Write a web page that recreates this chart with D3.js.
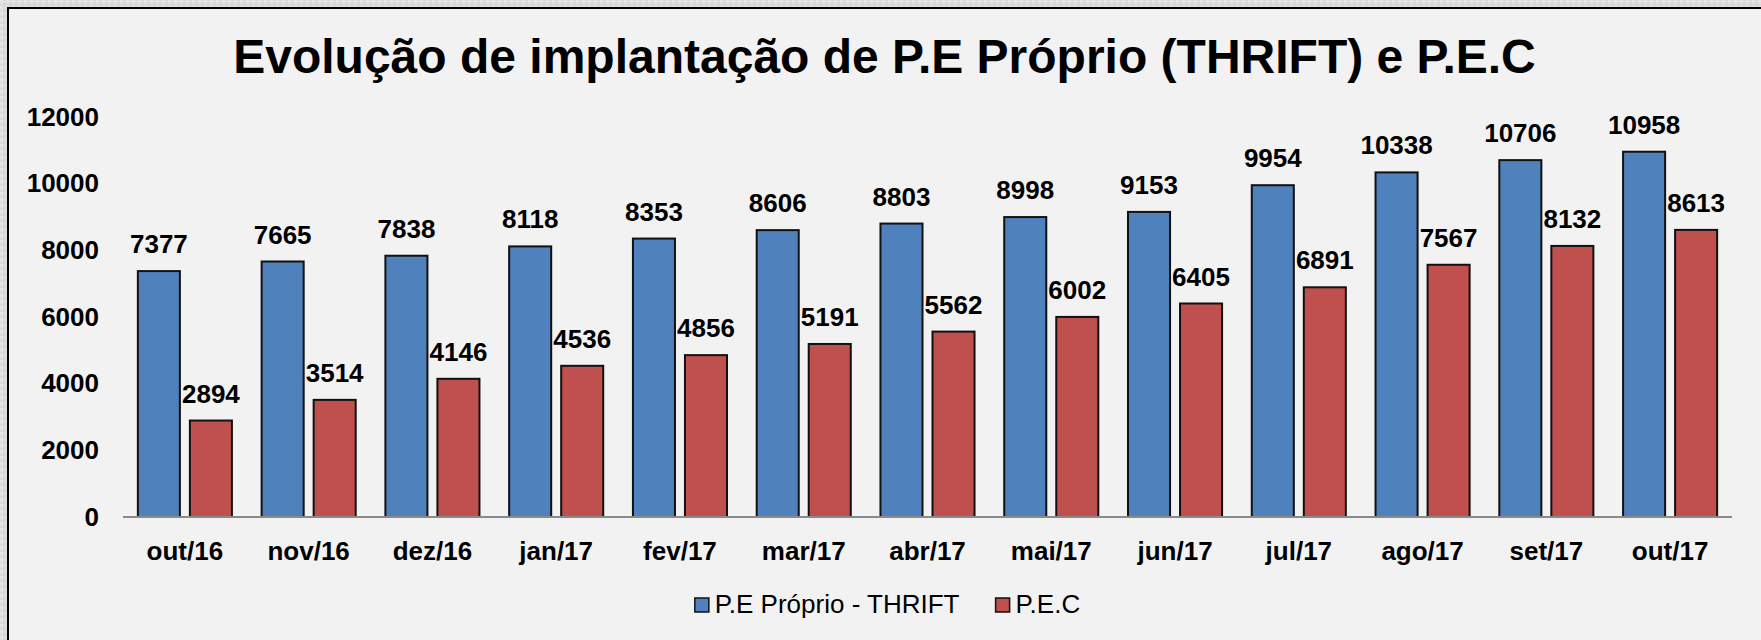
<!DOCTYPE html>
<html>
<head>
<meta charset="utf-8">
<script src="https://cdn.jsdelivr.net/npm/d3@7"></script>
<style>
  html, body { margin: 0; padding: 0; background: #dedede; }
  svg { display: block; font-family: "Liberation Sans", Arial, sans-serif; }
</style>
</head>
<body>
<div id="chart"></div>
<script>
const categories = ['out/16', 'nov/16', 'dez/16', 'jan/17', 'fev/17', 'mar/17', 'abr/17',
  'mai/17', 'jun/17', 'jul/17', 'ago/17', 'set/17', 'out/17']
const seriesNames = ['P.E Próprio - THRIFT', 'P.E.C']
const thrift = [7377, 7665, 7838, 8118, 8353, 8606, 8803, 8998, 9153, 9954, 10338, 10706, 10958]
const pec = [2894, 3514, 4146, 4536, 4856, 5191, 5562, 6002, 6405, 6891, 7567, 8132, 8613]
const yTicks = [0, 2000, 4000, 6000, 8000, 10000, 12000]
const colors = ['#4F81BD', '#C0504D']
const title = 'Evolução de implantação de P.E Próprio (THRIFT) e P.E.C'

const width = 1761
const height = 640
const plot = { left: 123, right: 1732, top: 117, bottom: 517 }

const svg = d3.select('#chart').append('svg')
  .attr('width', width)
  .attr('height', height)

// textured outer background
const defs = svg.append('defs')
const pat = defs.append('pattern')
  .attr('id', 'tex')
  .attr('width', 6).attr('height', 6)
  .attr('patternUnits', 'userSpaceOnUse')
pat.append('rect').attr('width', 6).attr('height', 6).attr('fill', '#dcdcdc')
pat.append('rect').attr('x', 0).attr('y', 0).attr('width', 3).attr('height', 3).attr('fill', '#e4e4e4')
pat.append('rect').attr('x', 3).attr('y', 3).attr('width', 3).attr('height', 3).attr('fill', '#d6d6d6')
svg.append('rect').attr('width', width).attr('height', height).attr('fill', 'url(#tex)')

// chart area with frame (right/bottom edges off-canvas)
svg.append('rect')
  .attr('x', 8).attr('y', 8)
  .attr('width', width + 20).attr('height', height + 20)
  .attr('fill', '#f2f2f2')
  .attr('stroke', '#000')
  .attr('stroke-width', 2)

const data = categories.map((c, i) => ({ cat: c, values: [thrift[i], pec[i]] }))

const x0 = d3.scaleBand()
  .domain(categories)
  .range([plot.left, plot.right])
  .paddingInner(0.24)
  .paddingOuter(0.12)

const x1 = d3.scaleBand()
  .domain(seriesNames)
  .range([0, x0.bandwidth()])
  .paddingInner(0.192)

const y = d3.scaleLinear()
  .domain([0, 12000])
  .range([plot.bottom, plot.top])

// title
svg.append('text')
  .attr('x', (8 + width) / 2)
  .attr('y', 73)
  .attr('text-anchor', 'middle')
  .attr('font-size', 48)
  .attr('font-weight', 'bold')
  .attr('fill', '#000')
  .text(title)

// y axis labels (no axis line in reference)
const yAxis = d3.axisLeft(y).tickValues(yTicks).tickSize(0).tickPadding(0).tickFormat(d3.format('d'))
const gy = svg.append('g')
  .attr('transform', `translate(99,0)`)
  .call(yAxis)
gy.select('.domain').remove()
gy.selectAll('text')
  .attr('font-size', 26)
  .attr('font-weight', 'bold')
  .attr('fill', '#000')
  .attr('font-family', '"Liberation Sans", Arial, sans-serif')

// bars
const groups = svg.append('g').selectAll('g')
  .data(data).enter()
  .append('g')
  .attr('transform', d => `translate(${x0(d.cat)},0)`)

groups.selectAll('rect')
  .data(d => d.values.map((v, i) => ({ key: seriesNames[i], v, i })))
  .enter()
  .append('rect')
  .attr('x', d => x1(d.key))
  .attr('y', d => y(d.v))
  .attr('width', x1.bandwidth())
  .attr('height', d => y(0) - y(d.v))
  .attr('fill', d => colors[d.i])
  .attr('stroke', '#111')
  .attr('stroke-width', 2)

groups.selectAll('text.val')
  .data(d => d.values.map((v, i) => ({ key: seriesNames[i], v, i })))
  .enter()
  .append('text')
  .attr('class', 'val')
  .attr('x', d => x1(d.key) + x1.bandwidth() / 2)
  .attr('y', d => y(d.v) - 18)
  .attr('text-anchor', 'middle')
  .attr('font-size', 26)
  .attr('font-weight', 'bold')
  .attr('fill', '#000')
  .text(d => d.v)

// x axis
const xAxis = d3.axisBottom(x0).tickSize(0).tickPadding(0)
const gx = svg.append('g')
  .attr('transform', `translate(0,${plot.bottom})`)
  .call(xAxis)
gx.select('.domain')
  .attr('stroke', '#898989')
  .attr('stroke-width', 2)
  .attr('d', `M${plot.left},0H${plot.right}`)
gx.selectAll('text')
  .attr('y', 43)
  .attr('dy', null)
  .attr('font-size', 26)
  .attr('font-weight', 'bold')
  .attr('fill', '#000')
  .attr('font-family', '"Liberation Sans", Arial, sans-serif')

// legend
const legend = svg.append('g')
const items = legend.selectAll('g')
  .data(seriesNames).enter()
  .append('g')
items.append('rect')
  .attr('width', 14).attr('height', 14)
  .attr('y', 598)
  .attr('fill', (d, i) => colors[i])
  .attr('stroke', '#111')
  .attr('stroke-width', 1.5)
items.append('text')
  .attr('x', 20)
  .attr('y', 613)
  .attr('font-size', 26)
  .attr('fill', '#000')
  .text(d => d)

let cx = 0
const gap = 36
items.each(function () {
  const w = this.getBBox().width
  d3.select(this).attr('transform', `translate(${cx},0)`)
  cx += w + gap
})
const total = cx - gap
legend.attr('transform', `translate(${(8 + width) / 2 - total / 2 + 3},0)`)
</script>
</body>
</html>
